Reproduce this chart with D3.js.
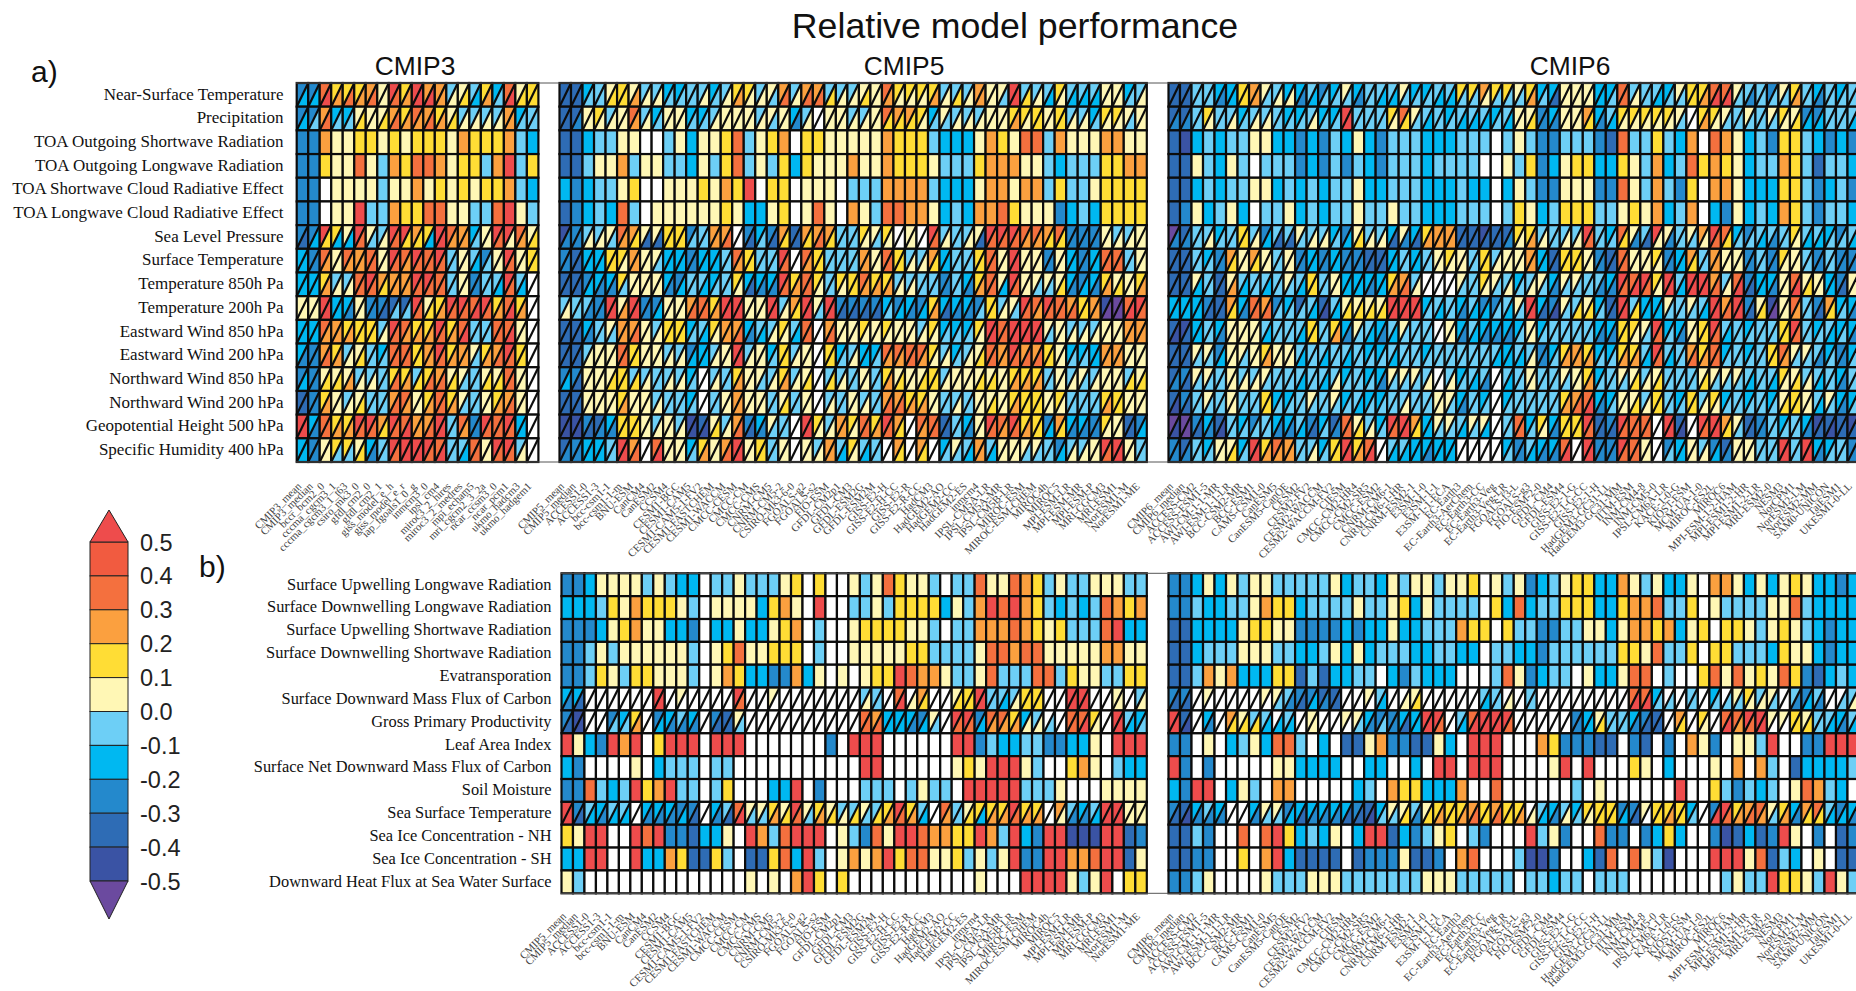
<!DOCTYPE html>
<html><head><meta charset="utf-8">
<script src="https://cdn.jsdelivr.net/npm/d3@7"></script>
<style>html,body{margin:0;padding:0;background:#fff;overflow:hidden}svg{display:block}</style>
</head><body><svg id="c" width="1856" height="991"></svg>
<script>
// Level codes: P<-0.5, I,D,M,C,L negative bins, y,Y,o,O,S positive bins, R>0.5, w = no data
const levelCodes=["P","I","D","M","C","L","y","Y","o","O","S","R"];
const levelValues=[-0.55,-0.45,-0.35,-0.25,-0.15,-0.05,0.05,0.15,0.25,0.35,0.45,0.55];
const bandColors=["#6b4a9f","#3a53a4","#2e6cb5","#2489cc","#00b8f1","#6dcff6","#fff7b5","#ffdd35","#fba03f","#f4703e","#f15b40","#ee4c4c"];
const thresholds=[-0.5,-0.4,-0.3,-0.2,-0.1,0,0.1,0.2,0.3,0.4,0.5];
const barTicks=[0.5,0.4,0.3,0.2,0.1,0.0,-0.1,-0.2,-0.3,-0.4,-0.5];

const rowsA=["Near-Surface Temperature","Precipitation","TOA Outgoing Shortwave Radiation","TOA Outgoing Longwave Radiation","TOA Shortwave Cloud Radiative Effect","TOA Longwave Cloud Radiative Effect","Sea Level Pressure","Surface Temperature","Temperature 850h Pa","Temperature 200h Pa","Eastward Wind 850 hPa","Eastward Wind 200 hPa","Northward Wind 850 hPa","Northward Wind 200 hPa","Geopotential Height 500 hPa","Specific Humidity 400 hPa"];
const rowsB=["Surface Upwelling Longwave Radiation","Surface Downwelling Longwave Radiation","Surface Upwelling Shortwave Radiation","Surface Downwelling Shortwave Radiation","Evatransporation","Surface Downward Mass Flux of Carbon","Gross Primary Productivity","Leaf Area Index","Surface Net Downward Mass Flux of Carbon","Soil Moisture","Sea Surface Temperature","Sea Ice Concentration - NH","Sea Ice Concentration - SH","Downward Heat Flux at Sea Water Surface"];

const modelsCMIP3=["CMIP3_mean","CMIP3_median","bccr_bcm2_0","cccma_cgcm3_1","cccma_cgcm3_1_t63","csiro_mk3_0","gfdl_cm2_0","gfdl_cm2_1","giss_model_e_h","giss_model_e_r","iap_fgoals1_0_g","inmcm3_0","ipsl_cm4","miroc3_2_hires","miroc3_2_medres","mpi_echam5","mri_cgcm2_3_2a","ncar_ccsm3_0","ncar_pcm1","ukmo_hadcm3","ukmo_hadgem1"];
const modelsCMIP5=["CMIP5_mean","CMIP5_median","ACCESS1-0","ACCESS1-3","bcc-csm1-1","bcc-csm1-1-m","BNU-ESM","CanCM4","CanESM2","CCSM4","CESM1-BGC","CESM1-CAM5","CESM1-CAM5-1-FV2","CESM1-FASTCHEM","CESM1-WACCM","CMCC-CESM","CMCC-CM","CMCC-CMS","CNRM-CM5","CNRM-CM5-2","CSIRO-Mk3-6-0","FGOALS-g2","FGOALS-s2","FIO-ESM","GFDL-CM2p1","GFDL-CM3","GFDL-ESM2G","GFDL-ESM2M","GISS-E2-H","GISS-E2-H-CC","GISS-E2-R","GISS-E2-R-CC","HadCM3","HadGEM2-AO","HadGEM2-CC","HadGEM2-ES","inmcm4","IPSL-CM5A-LR","IPSL-CM5A-MR","IPSL-CM5B-LR","MIROC-ESM","MIROC-ESM-CHEM","MIROC4h","MIROC5","MPI-ESM-LR","MPI-ESM-MR","MPI-ESM-P","MRI-CGCM3","MRI-ESM1","NorESM1-M","NorESM1-ME"];
const modelsCMIP6=["CMIP6_mean","CMIP6_median","ACCESS-CM2","ACCESS-ESM1-5","AWI-CM-1-1-MR","AWI-ESM-1-1-LR","BCC-CSM2-MR","BCC-ESM1","CAMS-CSM1-0","CanESM5","CanESM5-CanOE","CESM2","CESM2-FV2","CESM2-WACCM","CESM2-WACCM-FV2","CIESM","CMCC-CM2-HR4","CMCC-CM2-SR5","CMCC-ESM2","CNRM-CM6-1","CNRM-CM6-1-HR","CNRM-ESM2-1","E3SM-1-0","E3SM-1-1","E3SM-1-1-ECA","EC-Earth3","EC-Earth3-AerChem","EC-Earth3-CC","EC-Earth3-Veg","EC-Earth3-Veg-LR","FGOALS-f3-L","FGOALS-g3","FIO-ESM-2-0","GFDL-CM4","GFDL-ESM4","GISS-E2-1-G","GISS-E2-1-G-CC","GISS-E2-1-H","HadGEM3-GC31-LL","HadGEM3-GC31-MM","IITM-ESM","INM-CM4-8","INM-CM5-0","IPSL-CM6A-LR","KACE-1-0-G","KIOST-ESM","MCM-UA-1-0","MIROC-ES2L","MIROC6","MPI-ESM-1-2-HAM","MPI-ESM1-2-HR","MPI-ESM1-2-LR","MRI-ESM2-0","NESM3","NorCPM1","NorESM2-LM","NorESM2-MM","SAM0-UNICON","TaiESM1","UKESM1-0-LL"];

// Panel a. An empty lower string means the whole cell has one value.
const aCMIP3Upper=[
"M M O Y Y Y o y R Y R o o L y L Y C O y Y",
"M M o C C y y y o Y O o Y y L L L L o C L",
"M M o y y Y Y y Y y Y Y Y y o Y Y Y o L C",
"M M Y y y O y L o Y O O o y Y Y L o R L Y",
"M M w y y y y L y y o y Y y Y y Y Y o L C",
"M M w y y R L L o Y Y O O y y L L O R y L",
"M M R Y y R y L R R o Y R O o C y R R O y",
"C M O y O o O y R O R O R L y L M y R y Y",
"C C Y L L O R o o o R R O L y M L L R L w",
"y y R C C y M M D D R y Y R R O R Y O Y w",
"C C O o Y Y Y L R O Y Y R Y O L L O O y w",
"C M o Y L y L C O O Y o R Y o y Y o R Y w",
"M M y y y L L L Y Y L Y o y y L y y O y w",
"D M Y y L y L L o O y Y O Y y L y Y o y w",
"R C O Y Y R R o R O o o R L O M R O R C w",
"C M y Y Y y C L R R R R O L L O y R R L w"];
const aCMIP3Lower=[
"C C R o O o O y O o R R o y Y C o L R Y Y",
"C L O L L Y y Y O o o O o Y y y y y o L L",
"","","","",
"D C Y C C O L y O Y Y C R o o L y O y o Y",
"C M o y o o O y O o O O O L y C L y O y Y",
"C C o y y O O Y o o O O O L y M L C O C w",
"y y R C M y M D L L O Y o O O R O o R o w",
"C C o o o Y Y y O o o o O o R L L O R y w",
"M M O o y Y L L O O Y o O o o L o O O Y w",
"C M Y Y o y y L O o Y O O Y L L Y Y O y w",
"D M o y y Y L L O o y o O o L L y o O y w",
"R M O o o O O Y O R o O R L o M O O O C w",
"C M y L L Y M L O R R O R L C O y O O y w"];

const aCMIP5Upper=[
"D D C L y Y y L L C C L L C L Y Y L y o L o o L L L y y O Y Y Y Y L L L o y y R L L L Y L L L y y C L",
"D D y Y L y O L C y y C C L y y y L y y C L w y y L L y O o o Y C y L L L y y Y Y Y y Y L L C Y Y y y",
"D D C L L y y w w L y C y y Y O L y Y o w Y Y y y y y y o Y Y Y L C C C y o Y y O O L o y y y o o y y",
"D D L y y o L y y L L C y L Y O L y L Y C Y y y y o y y o Y Y Y y L L L Y o o o y y L C L L L Y Y o o",
"C M C L L y Y w w y y y Y y o Y R w Y Y w y y y w L L L o o o o L C C C y o o y o o L Y L L y Y Y Y Y",
"D M C L C O L w y y y y y y Y y C C y Y w y O y w o y L O O o o y C L C o o O Y y y y M C L C Y Y Y Y",
"I M L L y O o y y Y Y M L o o w M C M o D o o o L L Y y Y w y w R L L L y R R R O O o O M M M y L L y",
"M D C C Y Y o y y C C M C C L O Y L L R w O Y L L L o y O Y L L o C L L Y O y R y y M y C M C O O L y",
"D D M C C Y y y y C M L L C L Y C C C R Y O Y L Y Y O Y Y L L L L M L C Y O y R y y y y C M C Y y y Y",
"L L L M R y R M M y y o O Y R R y y R L o R y R M M M M C M C M Y C C C M Y L y R O R O o Y o I P O R",
"D D C L y o o y L Y Y C L Y o o C L L Y L O w o y y Y y Y y y L Y C C C Y R O R R R y y L L L y y o o",
"D D L y y O Y y y L L M C L y R L y C Y L y w Y C L C C O O O O Y L C L y O o R o o Y y C C C o o y y",
"M M y y y Y L L L L L C w L L Y y y L Y L y w L L L y L Y y y y Y L y y y y y Y Y Y L y L y L y y L y",
"D D y y y Y y y L L L C w L y o y y L y L y w L L y L L o o Y Y y L L L y y y Y Y Y y Y L L L Y Y y y",
"I I M D C Y Y y L y L I D y L o M C y L w R Y L o Y O Y R o w O O D L C y R O R Y Y M o C C M Y y D M",
"D M C C L R o w O y y C Y y o R y Y L y w y L o L Y L L w o w o w C y L o L y y y y L M L L y R R y L"];
const aCMIP5Lower=[
"D D L L Y Y o y y L L L y L y o y y L O y O O Y y y Y y o y y y o y Y y o y L R Y y C y C C C y y L y",
"D M y y y y o y L y y L L y y y y y L y M y w y y y y y Y Y Y y L L y y y y y o y Y y Y y y L y y L y",
"","","","",
"M M y y L o Y D D Y Y L L o O w D L D Y D Y O Y L L y L y w y w O y L y D O O O o o Y Y M M M y y y y",
"M D C C Y y o y L C C M C C L o Y L L O w o Y L L L o y O Y y y Y C L L Y O y R y y M y C M C O O L y",
"D D C M M L y y y M C L C L L y D M M O o O y L y Y o o o y y L L M L M o O C O y L L Y M C M o Y y o",
"y L M M R o R M C y y O O o R R y y R y Y R L R D D D D L C M C o D M M L Y y L O o O O O Y o P P R O",
"D D M L L o O y y Y Y L C y o O M C y y C O w O y y y y y y y y y L L L y R O R R R L y y y y y y o o",
"D D y y y O Y y y y y C C y y R y y L Y y y w Y L y C L o o O o y y L y Y O o O O O Y y L L C o o y y",
"C D y y Y Y Y y L y y L w y L o y L y o y Y w Y y L y L o Y y Y Y y y y Y Y y o o o L y y L y y y Y Y",
"D D y y y o y y y L L L w L y o y y L Y L y w y L y y L O O o o y L y L y Y y o Y Y y y L L L o Y y y",
"I I D M M Y Y y y y y I I Y y O D M L L w R y y o y O o O Y w o O D L M y O o O o Y C Y M M M y y D C",
"M M C C L R O w R y y L o y O R y Y L y w y y o C y C L w Y w Y w L L C o C y y L L L C y y y O R y L"];

const aCMIP6Upper=[
"D D L L C C Y o y L C C L M C y C L L L y C C L L Y Y o Y Y y Y C C y y y C C O L L L C y Y Y O O y L L M y Y L C L C L",
"D D L Y L L C L L L C C L C C R L L L Y O y L L C L L L C L y y M C y y o C L Y Y Y Y Y y w Y Y y L y L y Y y M M L L L",
"D I C L C L L y y C C M C M L C y C M L L L C C C L L L w L y L M M L L L M D O L L Y L C o w O o y C L M Y Y L C M C M",
"D D y L C y L w L L L M C M L M L C M L L L C L L L L w w y L Y M C y Y Y C C Y y L o C L O Y o Y y C L L o Y L D L L C",
"D D C L C L L y y C L C L C L L y C C L L L C C C L C C w C y L M M y y y M M O y L o L M Y w o o y C C C Y Y L M C L M",
"D M y C L y C w L L y C L C L L y L L y L L C C C L L L w L Y y C L Y Y Y L L y Y y o C L o w C M y C L C o Y L M L L C",
"P D L L C L Y L M L L y L L C M y L L C y C Y o o D D I D D Y Y L L L L R L C O y L R y L y o R O C M L L L Y L L C M L",
"D D L C M o y o y L y M C M C M M D D C L C L y Y y L Y L y y o C D Y Y y M D O y y Y M C o L o y y M L M Y y L M L M M",
"D D y L D y L L L L y L Y L y C C C C Y o L w w w y L Y y L C L y C y y L L C R O R Y R L R R o L O M C C y O y y C M y",
"C C C M D o C O o M C D L D L y y y y R R R C L L C L M M L y R C M y L y C D R L C C y L y L R o R M y I y O L M o C C",
"D I C L C y y y L L L L Y L Y C y L C L y L L w y C L C C C C y C L L L L C C Y Y y R C C y Y R L L C L L Y R L C L C C",
"D D y y M y y y Y y y L L L L L L C C L L L C L L L L L L C L L M C Y o Y C C Y Y L R L L o Y O C L C L Y O y y L C M C",
"D M y y L y L L y L L L L L L C L C C y y y L w L C L L w L L y L L y y Y C L y y L y L L L y y y y L L L Y y L L L C L",
"D M L y L y L L Y C C L y L y C L C C L L L L y y C L C w C L L L L Y o O C C y y L Y L C Y L Y C L C L C y Y y L y C C",
"P P M C D L C M L C C L M C D O y L C R R o C y y L y y w L O C Y C Y Y R D M R O O w R D w R R o y D M L C L C I D D I",
"M D L C y y C R Y O o L L C Y R Y O w L L C C C C w w w w C M L C C O w R M M R O y w M C y L M D y y L L R L R C C L M"];
const aCMIP6Lower=[
"D D L L M C Y o L y y M C L L L M L C C L L L C C L L y L L L o L D y y y C L O y L C L L Y o R R L M L L L o L M L L L",
"M M L y L y L y y L L L y L L R L L L y Y L C L L C C C L C y Y M M y y Y M C y y y y y L w o y L L L L L y Y C C L L C",
"","","","",
"M M L y L L Y y C D D L y y L C Y y y D M D o o o D D D D M y o y L y y O L L Y M D y M L L y O Y L L C M L y C C L L C",
"D D L L M Y y Y y L y M C M C M M D D C L C L y y y L Y y y y o C D Y Y y M D O y y y M C Y L o y y M L M y y L M L M M",
"D D C L D o C L C L L C Y L y C C M C o O y w w w L L y L y L y L M L L L M M O R O y R C R R O y R D C M y R Y y C D y",
"C C C D D Y M O O L L L C I C Y Y Y Y R R R L C L M C C L C L R D I L Y Y L D R Y C C L L L C R O R D Y P y o L D Y L M",
"I D C L M y y y C L L C Y L o M L C M C L L L w y M C M M M L y L L L L L M M Y y L O L M y Y O C L L L L Y O L L C L M",
"D D L L C y L y o y y C L C L C L L L C L L L L L L L L C C C y M L o o o L L o o C O C L O o O L L L L Y o L L M L M L",
"M D L L L y y y L L L C L C y L L L M L L L y w y L C M w C L y L L L y o L L L Y y Y L L L Y L L L C L C y Y y C L M L",
"I D L L L y L L Y L L L L L L L C L L L y L L y L M L L w L L L L L o O R M L y Y y Y L L Y y y L L L L L Y Y y C L M L",
"I P D M I L L L L M M C D L M O Y y L O R Y C L L C L C w L O L y M Y Y O D D O O O w R I w O R Y L D M L L L M D I D D",
"M M L L y Y L R o o o L y L Y R o R w C C C M C C w w w w L M C M M R w R M M O O y w L C y y C M y y L L R L R M L L M"];

// Panel b
const bCMIP5Upper=[
"M M C y y y y L y L C C w L L y L L L y Y w Y w w y L y O Y y y L w L L O y y O o Y L y L L y y y L L",
"C C C L Y y o Y Y Y y L w y y y y C Y o y w R w w L L y L Y Y Y Y C y L o R O R o Y L C L C L O o Y o",
"M M M C y Y o y y C C M w C C y C C y Y o w L w w y Y Y Y Y y y L w L L o o o O o Y y Y L L L O R C C",
"M M L y L y y y y y y L w y Y O y y Y Y Y w L w w y y y y y Y Y L L L L y O O o O O y y y y y o o y y",
"M M L Y y L Y Y y y y L w y o Y C C M M o C y w y w y Y Y R O o o y L L y O L L L O O L Y y y L L Y Y",
"C C w w w w w w R w y w w w w R w w y w w w w w w w L L w O w o w w y Y R L L L Y Y w w R R w w y w L",
"M I w w M C Y w M C L C w M D y w w w w w w w w w w O o C C C M y w R R M O O Y C L w w O O Y w R L C",
"R y C M R o R w Y R R R w R R R w w w w w w w M w R R R w w w w w w R R M L C C L L M M C C y w R R R",
"C M w w w w y w C L L L w L L w w w w w w w w w w w R R w w w w w w y Y y R R R y L w w Y o y w L C C",
"M M O L C L R Y o R L L w L Y w w w C C R w M w w w L L L w L y L L w R R R R R L L L y w w w y y y y",
"R M L C L L w C C C M M w C L O y y Y y R y Y y L L y L Y R Y L w O L y Y Y Y R Y Y w o L C L R R y y",
"Y y R R w w R O R M M D C C y w R o L O R R R w y L M O y R R O o o Y Y R o L R C M R R I I I R R D M",
"C C R R w w R C C o Y D D Y L w D D Y O C R L w y o y o R Y O O y y Y L y L y R M M R R o o O R R D y",
"y L w w w w w w w w w w w w w w y w y w o R Y w Y w w w w w w w w w w w y w w w R R R R y L y R w Y Y"];
const bCMIP5Lower=["","","","","",
"M D w w w w w w R w w w w w w O w w w w w w w w w w y L w R y Y w w Y Y R L C y Y Y w w R R w w y w y",
"D I w w L L o w C M M M w D D L w w w w w w w w w w O O C C M C L w O O C o o o y y L w O R y w R C L",
"","","",
"R D C M C C w M M M C D w M D R L L o Y O L o Y y Y L Y o O o C w o L Y C o o O o o w y M M C R R y y",
"","",""];

const bCMIP6Upper=[
"M M C y C y L y y L L L L L y C L L C y L y y L y y Y w y L y M C L y Y Y C C o y L y C C y w o o y C y C y Y y C C M C",
"M M L C C L L y o Y Y C L L L L y L L y Y C y L L L L w Y C O C L L Y Y Y C C Y o o O L L Y w y L L L L y y O L C C C C",
"D D C C C C y Y Y y y M M M M C M C C y C C L L L o Y Y w Y L L M M L L y y C y o o Y o C y Y w Y Y y L y Y y L C M C C",
"D D C L L L y y y L L C C L y C y C L L L C C L L C C w L L C C M L L L L L L Y Y y O L L Y w Y Y L L L C Y y y C M C C",
"D D L o y o C C C Y Y D L D C C L L w C M L C C C w w w L O y M C L L w y C C y O O w L w w Y O y O y Y y O Y M D C L C",
"M M w y w w w w y y L M M D D w w y L w w y w w w w w L L w w L w w w w w w w w O O C w w L w C w y Y L y w L M L w w L",
"R D w C w o y L L w L w y w w y y C M M C C R R w L O R R R w w w w w M C y L L C M D w o w Y w O O R R y y Y y L L C L",
"M M w y w C L y C O O L w C w D D y o M M D D y C w R R R w w w o Y M M M D D w M D w M w o y M w y y L R w w M M R R R",
"R M w M w w w w w y y C C C C w w C C w w C w R R w R R R w w w w y R w R w w w Y y w C w w w y w o w o L w D C C C C L",
"C M R R w C y L w o o w w w w w C L w o Y Y C C C o w w O w w w w w w L w y w w w w w w R w w Y L M L C L w y O o L C w",
"M D C L C w w C y y M C C C C C M D C y y L y Y Y Y o Y o Y Y w L C L C Y Y Y M M y Y Y Y C w M R Y o O y Y C o O L M C",
"D D L M w w O w O R Y C L C y w C R R D C M L y Y w L M w w w R L y M w w O M M w M C Y C w w M I D C D M R y w M w D M",
"D D M M w w Y w o R C D D D D w D M M M y D D M w o O w w w L I I M w w C D O w O y L I w w w R R R y O D L C w y w D D",
"M M L y w w w w y L L L y y y L L L L L L L y y y L L L L L w L L C L L w L L L w w w w w w w w L y L L R Y Y y L R y L"];
const bCMIP6Lower=["","","","","",
"D D w w w w w w w L M D C M D w w w C w y Y w w w w w C L y w L w w w w w w w w R R L L w L w L L L y y L w M C M w L y",
"R I w M w Y Y Y C C C w y w w w L M L M D C R O w C R R R O w w w w w M C Y L L M D D w Y w y w R o O R w w Y Y L C M C",
"","","",
"D I M M M w w M L L C D M M M D D I L L Y M Y o Y o O Y O Y o y C M y L y Y Y C D w Y o Y L w R O o O o L o M Y Y C C M",
"","",""];

// Geometry of the page
const W=1856,H=991;
const svg=d3.select("#c");
const serif="'Liberation Serif','Times New Roman',serif", sans="'Liberation Sans',Arial,sans-serif";
const color=d3.scaleThreshold().domain(thresholds).range(bandColors);
const valueOf=d3.scaleOrdinal().domain(levelCodes).range(levelValues);
const parse=s=>s.trim().split(/\s+/);
const fillOf=c=>c==="w"?"#fff":color(valueOf(c));
const ink="#0c0c0c", inkW=2.2;

function drawBlock(g,models,upper,lower,rowNames,x0,x1,y0,y1){
  const x=d3.scaleBand().domain(models).range([x0,x1]);
  const y=d3.scaleBand().domain(rowNames).range([y0,y1]);
  rowNames.forEach((rn,ri)=>{
    const u=parse(upper[ri]);
    const l=lower[ri]?parse(lower[ri]):null;
    models.forEach((m,ci)=>{
      const xa=x(m),xb=xa+x.bandwidth(),ya=y(rn),yb=ya+y.bandwidth();
      if(!l){
        g.append("rect").attr("x",xa).attr("y",ya).attr("width",x.bandwidth()).attr("height",y.bandwidth())
          .attr("fill",fillOf(u[ci]||"w")).attr("stroke",ink).attr("stroke-width",inkW);
      }else{
        g.append("path").attr("d",`M${xa},${yb}L${xa},${ya}L${xb},${ya}Z`).attr("fill",fillOf(u[ci]||"w"));
        g.append("path").attr("d",`M${xa},${yb}L${xb},${ya}L${xb},${yb}Z`).attr("fill",fillOf(l[ci]||"w"));
        g.append("rect").attr("x",xa).attr("y",ya).attr("width",x.bandwidth()).attr("height",y.bandwidth())
          .attr("fill","none").attr("stroke",ink).attr("stroke-width",inkW);
        g.append("line").attr("x1",xa).attr("y1",yb).attr("x2",xb).attr("y2",ya).attr("stroke",ink).attr("stroke-width",inkW);
      }
    });
  });
  return x;
}
function tickLabels(x,models,yEnd){
  const g=svg.append("g");
  g.selectAll("text").data(models).join("text")
    .attr("transform",d=>`translate(${x(d)+x.bandwidth()/2-0.5},${yEnd}) rotate(-45)`)
    .attr("text-anchor","end").attr("font-family",serif).attr("font-size",10.8).attr("fill","#444").text(d=>d);
}
function rowLabels(names,right,y0,y1,size){
  const y=d3.scaleBand().domain(names).range([y0,y1]);
  svg.append("g").selectAll("text").data(names).join("text")
    .attr("x",right).attr("y",d=>y(d)+y.bandwidth()/2+4.8).attr("text-anchor","end")
    .attr("font-family",serif).attr("font-size",size).attr("fill","#111").text(d=>d);
}

const aTop=83,aBot=462,bTop=573.3,bBot=893.3;
const xA3=[296.7,538.4],xA5=[559.5,1146.8],xA6=[1168.5,1859],xB5=[561.5,1146.8],xB6=[1168.5,1859];

const gA=svg.append("g");
const xa3=drawBlock(gA,modelsCMIP3,aCMIP3Upper,aCMIP3Lower,rowsA,xA3[0],xA3[1],aTop,aBot);
const xa5=drawBlock(gA,modelsCMIP5,aCMIP5Upper,aCMIP5Lower,rowsA,xA5[0],xA5[1],aTop,aBot);
const xa6=drawBlock(gA,modelsCMIP6,aCMIP6Upper,aCMIP6Lower,rowsA,xA6[0],xA6[1],aTop,aBot);
const gB=svg.append("g");
const xb5=drawBlock(gB,modelsCMIP5,bCMIP5Upper,bCMIP5Lower,rowsB,xB5[0],xB5[1],bTop,bBot);
const xb6=drawBlock(gB,modelsCMIP6,bCMIP6Upper,bCMIP6Lower,rowsB,xB6[0],xB6[1],bTop,bBot);

[[296,aTop],[296,aBot],[561,bTop],[561,bBot]].forEach(p=>{
  svg.append("line").attr("x1",p[0]).attr("x2",W).attr("y1",p[1]).attr("y2",p[1]).attr("stroke","#555").attr("stroke-width",1);
});

rowLabels(rowsA,283.5,aTop,aBot,17);
rowLabels(rowsB,551.5,bTop,bBot,16.4);
tickLabels(xa3,modelsCMIP3,487);
tickLabels(xa5,modelsCMIP5,487);
tickLabels(xa6,modelsCMIP6,487);
tickLabels(xb5,modelsCMIP5,917);
tickLabels(xb6,modelsCMIP6,917);

const txt=(t,x,y,s,a)=>svg.append("text").attr("x",x).attr("y",y).attr("font-family",sans).attr("font-size",s).attr("text-anchor",a||"middle").attr("fill","#111").text(t);
txt("Relative model performance",1015,38,35.7);
txt("CMIP3",415,74.5,26.4);
txt("CMIP5",904,74.5,26.4);
txt("CMIP6",1570,74.5,26.4);
txt("a)",31,82,30,"start");
txt("b)",199,577,30,"start");

// Colour bar
const cbar=svg.append("g");
const yBar=d3.scaleLinear().domain([0.5,-0.5]).range([542,881]);
const bx0=90,bx1=128;
d3.pairs(barTicks).forEach(([a,b])=>{
  cbar.append("rect").attr("x",bx0).attr("y",yBar(a)).attr("width",bx1-bx0).attr("height",yBar(b)-yBar(a))
    .attr("fill",color((a+b)/2)).attr("stroke","#222").attr("stroke-width",1);
});
cbar.append("path").attr("d",`M${bx0},${yBar(0.5)}L${(bx0+bx1)/2},510L${bx1},${yBar(0.5)}Z`).attr("fill",color(0.55)).attr("stroke","#222");
cbar.append("path").attr("d",`M${bx0},${yBar(-0.5)}L${(bx0+bx1)/2},919L${bx1},${yBar(-0.5)}Z`).attr("fill",color(-0.55)).attr("stroke","#222");
cbar.selectAll("text").data(barTicks).join("text")
  .attr("x",140).attr("y",d=>yBar(d)+8.5).attr("font-family",sans).attr("font-size",23.5).attr("fill","#222")
  .text(d=>d.toFixed(1));
</script></body></html>
